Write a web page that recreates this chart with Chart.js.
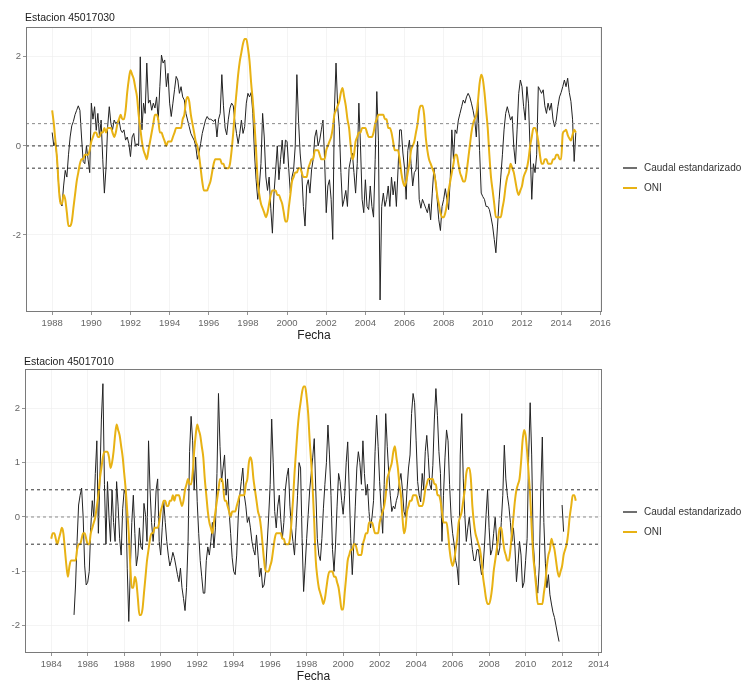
<!DOCTYPE html>
<html>
<head>
<meta charset="utf-8">
<script src="https://cdn.jsdelivr.net/npm/chart.js@4/dist/chart.umd.min.js"></script>
<style>
  html, body { margin: 0; padding: 0; background: #ffffff; }
  #wrap { position: relative; width: 746px; height: 687px; }
  .panel { position: absolute; left: 0; width: 746px; }
</style>
</head>
<body>
<div id="wrap">
  <div class="panel" style="top:0;height:343px"><canvas id="c1" width="746" height="343"></canvas></div>
  <div class="panel" style="top:343px;height:344px"><canvas id="c2" width="746" height="344"></canvas></div>
</div>
<script>
// ---------------- DATA ----------------
const seriesNames = ['Caudal estandarizado', 'ONI'];
const stationTop = 'Estacion 45017030';
const stationBottom = 'Estacion 45017010';
const axisTitle = 'Fecha';

// ONI, monthly, Jan 1984 .. Oct 2014
const oniStartYear = 1984;
const oniStartMonth = 1;
const oniValues = [
  -0.4,-0.3,-0.3,-0.4,-0.5,-0.4,-0.3,-0.2,-0.3,-0.6,-0.9,-1.1,
  -0.9,-0.8,-0.8,-0.8,-0.8,-0.6,-0.5,-0.5,-0.4,-0.3,-0.3,-0.4,
  -0.5,-0.5,-0.3,-0.2,-0.1,0.0,0.2,0.4,0.7,0.9,1.1,1.2,
  1.2,1.2,1.1,0.9,1.0,1.2,1.5,1.7,1.6,1.5,1.3,1.1,
  0.8,0.5,0.1,-0.3,-0.9,-1.3,-1.3,-1.1,-1.2,-1.5,-1.8,-1.8,
  -1.7,-1.4,-1.1,-0.8,-0.6,-0.4,-0.3,-0.3,-0.2,-0.2,-0.2,-0.1,
  0.1,0.2,0.3,0.3,0.2,0.2,0.3,0.3,0.4,0.3,0.4,0.4,
  0.4,0.3,0.2,0.3,0.5,0.6,0.7,0.6,0.6,0.8,1.2,1.5,
  1.7,1.6,1.5,1.3,1.1,0.7,0.4,0.1,-0.1,-0.2,-0.3,-0.1,
  0.1,0.3,0.5,0.7,0.7,0.6,0.3,0.3,0.2,0.1,0.0,0.1,
  0.1,0.1,0.2,0.3,0.4,0.4,0.4,0.4,0.6,0.7,1.0,1.1,
  1.0,0.7,0.5,0.3,0.1,0.0,-0.2,-0.5,-0.8,-1.0,-1.0,-1.0,
  -0.9,-0.8,-0.6,-0.4,-0.3,-0.3,-0.3,-0.3,-0.4,-0.4,-0.5,-0.5,
  -0.5,-0.4,-0.1,0.3,0.8,1.2,1.6,1.9,2.1,2.3,2.4,2.4,
  2.2,1.9,1.4,1.0,0.5,-0.1,-0.8,-1.1,-1.3,-1.4,-1.5,-1.6,
  -1.5,-1.3,-1.1,-1.0,-1.0,-1.0,-1.1,-1.1,-1.2,-1.3,-1.5,-1.7,
  -1.7,-1.4,-1.1,-0.8,-0.7,-0.6,-0.6,-0.5,-0.5,-0.6,-0.7,-0.7,
  -0.7,-0.5,-0.4,-0.3,-0.3,-0.1,-0.1,-0.1,-0.2,-0.3,-0.3,-0.3,
  -0.1,0.0,0.1,0.2,0.4,0.7,0.8,0.9,1.0,1.2,1.3,1.1,
  0.9,0.6,0.4,0.0,-0.3,-0.2,0.1,0.2,0.3,0.3,0.4,0.4,
  0.4,0.3,0.2,0.2,0.2,0.3,0.5,0.6,0.7,0.7,0.7,0.7,
  0.6,0.6,0.4,0.4,0.3,0.1,-0.1,-0.1,-0.1,-0.3,-0.6,-0.8,
  -0.9,-0.8,-0.6,-0.4,-0.1,0.0,0.1,0.3,0.5,0.8,0.9,0.9,
  0.7,0.2,-0.1,-0.3,-0.4,-0.5,-0.6,-0.8,-1.1,-1.3,-1.5,-1.6,
  -1.6,-1.5,-1.3,-1.0,-0.8,-0.6,-0.4,-0.2,-0.2,-0.4,-0.6,-0.7,
  -0.8,-0.8,-0.6,-0.3,0.0,0.3,0.5,0.6,0.7,1.0,1.4,1.6,
  1.5,1.2,0.8,0.4,-0.2,-0.7,-1.0,-1.3,-1.6,-1.6,-1.6,-1.6,
  -1.4,-1.2,-0.9,-0.7,-0.6,-0.4,-0.5,-0.6,-0.8,-1.0,-1.1,-1.0,
  -0.9,-0.7,-0.6,-0.5,-0.3,0.0,0.2,0.4,0.4,0.3,0.1,-0.2,
  -0.4,-0.4,-0.3,-0.3,-0.4,-0.4,-0.4,-0.3,-0.3,-0.2,-0.2,-0.3,
  -0.3,0.28,0.33,0.36,0.25,0.17,0.12,0.25,0.36,0.3
];

// Station 45017030: standardized flow, monthly, Jan 1988 .. Oct 2014
const flowTopStartYear = 1988;
const flowTopStartMonth = 1;
const flowTop = [
  0.3,0.0,0.1,-0.3,-0.9,-1.25,-1.35,-0.9,-0.55,-0.7,-0.2,0.2,
  0.45,0.55,0.7,0.8,0.9,0.8,0.2,-0.35,-0.4,0.0,-0.3,-0.6,
  0.96,0.6,0.88,0.35,0.73,0.2,0.58,-0.3,-1.06,-0.5,0.43,0.88,
  0.5,0.36,0.58,0.5,0.55,0.58,0.36,0.3,0.36,0.13,0.2,0.05,
  -0.24,0.2,0.28,0.0,0.05,0.0,2.0,0.36,0.96,0.73,1.86,0.96,
  1.03,0.8,0.96,0.85,1.1,0.58,1.33,2.04,1.86,1.93,1.33,1.63,
  0.96,0.66,0.96,1.26,1.56,1.48,1.18,1.33,1.1,1.03,0.73,0.58,
  0.43,0.28,0.2,0.13,0.0,-0.3,-0.15,0.05,0.28,0.43,0.58,0.66,
  0.6,0.6,0.58,0.55,0.6,0.2,0.6,0.73,1.6,0.9,0.4,0.25,
  0.6,0.85,0.96,0.9,0.55,0.28,0.05,0.28,0.58,0.28,0.43,0.96,
  1.18,1.1,1.2,0.73,-0.16,-0.76,-1.2,-0.9,-0.4,0.73,0.2,-0.7,
  -1.0,-0.7,-1.4,-1.96,-1.06,-0.54,0.0,-0.76,-0.3,0.13,-0.4,0.13,
  0.1,-0.5,-1.06,-0.7,-0.54,0.0,1.6,0.58,-0.16,-0.6,-1.36,-1.8,
  -0.9,-0.76,-1.06,-0.54,-0.3,0.2,0.36,0.0,0.13,0.36,0.58,-0.3,
  -1.5,-0.9,-0.76,-1.2,-2.1,0.8,1.86,0.88,0.43,-0.6,-1.36,-1.2,
  -1.0,-1.36,-0.5,-0.3,-0.16,-0.6,-1.06,-0.4,0.96,0.0,-1.2,-1.5,
  -0.76,-1.36,-1.43,-0.9,-1.36,-1.6,-0.3,1.22,0.13,-3.46,-1.36,-1.06,
  -1.36,-1.2,-0.9,-1.36,-0.7,-1.1,-0.8,-1.36,-0.54,0.36,0.36,-0.16,
  -0.5,-1.2,-0.1,0.13,-0.4,-0.9,-0.6,-0.54,0.1,-1.2,-1.4,-1.2,
  -1.3,-1.4,-1.5,-1.3,-1.66,-1.06,-0.5,-0.76,-1.2,-1.66,-1.9,-1.36,
  -1.2,-0.96,-1.2,-1.43,-0.76,0.36,-0.3,0.36,0.28,0.58,0.73,0.88,
  1.03,0.96,1.1,1.18,1.1,0.96,0.8,0.6,0.2,1.0,-0.1,-1.06,
  -1.14,-1.2,-1.36,-1.36,-1.43,-1.6,-1.8,-2.1,-2.4,-1.8,-1.2,-0.7,
  -0.2,0.36,0.73,0.88,0.73,0.58,0.66,-0.04,-0.4,0.36,1.18,1.48,
  1.33,0.88,0.58,1.33,0.96,-0.1,-1.2,-0.4,-0.6,-0.2,1.33,1.26,
  1.18,1.26,0.9,0.73,0.96,0.8,0.96,0.6,0.43,0.58,0.88,1.1,
  1.2,1.33,1.48,1.33,1.52,1.2,1.0,0.6,-0.35,0.3
];

// Station 45017010: standardized flow, monthly, Apr 1985 .. Feb 2012 (null = gap)
const flowBottomStartYear = 1985;
const flowBottomStartMonth = 4;
const flowBottom = [
  -1.8,-1.25,-0.45,0.22,0.4,0.53,0.0,-0.9,-1.25,
  -1.2,-1.0,-0.2,0.3,0.0,0.8,1.4,-0.3,0.7,1.8,2.45,0.6,
  -0.5,0.65,0.0,-0.45,0.5,-0.1,-0.45,0.65,0.2,-0.4,-0.7,0.15,
  0.5,0.4,-0.94,-1.92,-1.0,-0.1,0.4,-0.3,-0.9,-0.7,-0.2,-0.55,
  -0.6,0.25,0.04,-0.45,1.4,0.5,-0.1,-0.45,-0.1,0.5,0.7,-0.45,
  -0.7,-0.2,0.28,-0.1,-0.45,-0.7,-0.9,-0.8,-0.65,-0.75,-0.9,-1.06,
  -1.19,-0.94,-1.3,-1.5,-1.72,-1.3,-0.45,1.2,1.85,1.4,0.5,1.1,
  0.28,-0.3,-0.8,-1.1,-1.4,-1.4,-0.8,-0.55,-0.7,-0.45,-0.1,-0.57,
  -0.2,0.8,2.27,1.3,0.65,0.9,1.14,0.4,0.7,0.1,-0.3,-0.75,
  -1.0,-1.06,-0.7,0.0,0.4,0.65,0.9,0.4,0.2,-0.1,0.0,-0.2,
  -0.45,-0.6,-0.7,-0.33,-0.7,-1.1,-0.94,-1.3,-1.25,-1.0,-0.5,0.0,
  0.6,1.8,1.0,0.1,-0.2,0.2,0.4,-0.05,-0.4,-0.1,0.5,0.75,
  0.9,0.2,-0.2,-0.45,-0.7,-0.2,0.4,1.0,0.9,-0.4,-1.37,-0.9,
  -0.4,0.04,0.5,0.8,1.1,1.44,0.5,-0.4,-0.7,-0.8,-0.4,0.15,
  0.6,1.0,1.69,1.14,0.4,-0.6,-1.0,-0.5,0.2,0.8,0.65,0.3,
  0.05,0.4,1.0,1.38,0.5,-0.4,-1.06,-0.5,0.2,0.9,1.2,1.0,
  0.6,1.4,0.8,0.4,0.6,0.1,-0.2,0.0,0.3,1.2,1.87,1.3,
  0.65,0.15,-0.3,0.6,1.9,1.3,0.8,0.4,0.1,0.2,0.15,0.3,
  0.4,0.65,0.8,0.5,0.1,0.0,0.5,0.9,1.14,1.9,2.27,2.1,
  1.4,0.65,0.4,0.28,0.8,0.5,1.2,1.5,1.1,0.6,0.5,0.95,
  1.8,2.36,1.87,1.2,0.8,-0.45,0.4,1.1,1.6,1.4,0.6,0.0,
  -0.3,-0.5,-0.8,-0.94,-1.25,1.14,1.9,0.7,0.04,-0.45,-0.2,0.0,
  -0.35,-0.6,-0.8,-0.8,-0.6,-0.6,-0.85,-1.06,-0.94,-0.5,0.04,0.5,
  -0.2,-0.7,-0.6,-0.3,0.0,-0.45,-0.7,-0.57,-0.1,0.4,1.32,0.7,
  0.4,0.2,-0.1,-0.45,-0.2,-0.57,-1.19,-0.85,-0.45,-0.7,-1.3,-1.2,
  -0.8,-0.4,1.1,2.1,1.14,-0.45,-0.9,-1.2,-1.4,-0.9,0.5,1.47,
  -0.1,-0.85,-1.3,-1.06,-1.43,-1.6,-1.75,-1.85,-2.0,-2.15,-2.29,null,
  0.22,-0.27
];

// ONI window shown in each panel (first and last month, as decimal years)
const oniTopFrom = 1988.0, oniTopTo = 2014.75;
const oniBottomFrom = 1984.0, oniBottomTo = 2012.75;

// Reference lines
const thresholds = [0.5, 0, -0.5];

// Axis ticks and limits
const topXTicks = [1988,1990,1992,1994,1996,1998,2000,2002,2004,2006,2008,2010,2012,2014,2016];
const bottomXTicks = [1984,1986,1988,1990,1992,1994,1996,1998,2000,2002,2004,2006,2008,2010,2012,2014];
const topYTicks = [-2, 0, 2];
const bottomYTicks = [-2, -1, 0, 1, 2];
const topXRange = [1986.6625, 2016.0875];
const bottomXRange = [1982.5625, 2014.1875];
const topYRange = [-3.73, 2.67];
const bottomYRange = [-2.50, 2.72];

// ---------------- HELPERS ----------------
const FONT = '"Liberation Sans", Arial, Helvetica, sans-serif';
const COL_FLOW = '#222222';
const COL_ONI = '#E8B214';

function monthlyPoints(startYear, startMonth, values) {
  return values.map((v, i) => ({ x: startYear + (startMonth - 1 + i) / 12, y: v }));
}
function oniWindow(from, to) {
  return monthlyPoints(oniStartYear, oniStartMonth, oniValues)
    .filter(p => p.x >= from - 1e-6 && p.x <= to + 1e-6);
}

const decoPlugin = {
  id: 'deco',
  afterDatasetsDraw(chart, args, opts) {
    const ca = chart.chartArea, ctx = chart.ctx;
    ctx.save();
    ctx.strokeStyle = '#7a7a7a';
    ctx.lineWidth = 1;
    ctx.strokeRect(Math.round(ca.left) + 0.5, Math.round(ca.top) + 0.5,
                   Math.round(ca.right - ca.left) - 1, Math.round(ca.bottom - ca.top) - 1);
    ctx.restore();
  },
  afterDraw(chart, args, opts) {
    const ctx = chart.ctx, ca = chart.chartArea;
    ctx.save();
    ctx.fillStyle = '#1a1a1a';
    ctx.font = '10.5px ' + FONT;
    ctx.textBaseline = 'middle';
    ctx.textAlign = 'left';
    ctx.fillText(opts.title, ca.left - 1, opts.titleY);
    ctx.font = '10px ' + FONT;
    ctx.fillStyle = '#333';
    const lx0 = 623, lx1 = 637, tx = 644;
    ctx.strokeStyle = COL_FLOW; ctx.lineWidth = 1.3;
    ctx.beginPath(); ctx.moveTo(lx0, opts.legendY[0]); ctx.lineTo(lx1, opts.legendY[0]); ctx.stroke();
    ctx.fillText(seriesNames[0], tx, opts.legendY[0]);
    ctx.strokeStyle = COL_ONI; ctx.lineWidth = 2;
    ctx.beginPath(); ctx.moveTo(lx0, opts.legendY[1]); ctx.lineTo(lx1, opts.legendY[1]); ctx.stroke();
    ctx.fillText(seriesNames[1], tx, opts.legendY[1]);
    ctx.restore();
  }
};

function makeChart(canvasId, cfg) {
  const hlineColors = cfg.hlineColors;
  const hlines = thresholds.map((t, i) => ({
    label: 'ref' + i,
    data: [{ x: cfg.xRange[0], y: t }, { x: cfg.xRange[1], y: t }],
    borderColor: hlineColors[i],
    borderWidth: 1,
    borderDash: [3, 3],
    pointRadius: 0,
    fill: false,
    order: 0
  }));
  return new Chart(document.getElementById(canvasId), {
    type: 'line',
    data: {
      datasets: [
        {
          label: seriesNames[0],
          data: cfg.flow,
          borderColor: COL_FLOW,
          borderWidth: 1.0,
          pointRadius: 0,
          tension: 0,
          spanGaps: false,
          fill: false,
          order: 2
        },
        {
          label: seriesNames[1],
          data: cfg.oni,
          borderColor: COL_ONI,
          borderWidth: 2,
          pointRadius: 0,
          cubicInterpolationMode: 'monotone',
          fill: false,
          order: 1
        },
        ...hlines
      ]
    },
    options: {
      responsive: false,
      animation: false,
      events: [],
      layout: { padding: { left: 0, top: cfg.padTop, right: 144, bottom: 0 } },
      plugins: {
        legend: { display: false },
        tooltip: { enabled: false },
        title: { display: false },
        deco: { title: cfg.title, titleY: cfg.titleY, legendY: cfg.legendY }
      },
      scales: {
        x: {
          type: 'linear',
          min: cfg.xRange[0],
          max: cfg.xRange[1],
          afterBuildTicks: s => { s.ticks = cfg.xTicks.map(v => ({ value: v })); },
          afterFit: s => { s.height = cfg.xAxisH; },
          ticks: {
            autoSkip: false, maxRotation: 0, minRotation: 0,
            font: { size: 9.5, family: FONT }, color: '#666', padding: 3,
            callback: v => String(v)
          },
          grid: { color: '#efefef', lineWidth: 0.7, tickColor: '#666', tickLength: 3 },
          border: { display: false },
          title: {
            display: true, text: axisTitle, color: '#222',
            font: { size: 12, family: FONT }, padding: { top: 0, bottom: cfg.titlePadBottom }
          }
        },
        y: {
          type: 'linear',
          min: cfg.yRange[0],
          max: cfg.yRange[1],
          afterBuildTicks: s => { s.ticks = cfg.yTicks.map(v => ({ value: v })); },
          afterFit: s => { s.width = cfg.yAxisW; },
          ticks: {
            font: { size: 9.5, family: FONT }, color: '#666', padding: 2,
            callback: v => String(v)
          },
          grid: { color: '#efefef', lineWidth: 0.7, tickColor: '#666', tickLength: 3 },
          border: { display: false }
        }
      }
    },
    plugins: [decoPlugin]
  });
}

makeChart('c1', {
  flow: monthlyPoints(flowTopStartYear, flowTopStartMonth, flowTop),
  oni: oniWindow(oniTopFrom, oniTopTo),
  xRange: topXRange, yRange: topYRange,
  xTicks: topXTicks, yTicks: topYTicks,
  padTop: 27, xAxisH: 31, yAxisW: 26, titlePadBottom: 0,
  title: stationTop, titleY: 18, legendY: [168, 188],
  hlineColors: ['#8a8a8a', '#333333', '#333333']
});

makeChart('c2', {
  flow: monthlyPoints(flowBottomStartYear, flowBottomStartMonth, flowBottom),
  oni: oniWindow(oniBottomFrom, oniBottomTo),
  xRange: bottomXRange, yRange: bottomYRange,
  xTicks: bottomXTicks, yTicks: bottomYTicks,
  padTop: 26, xAxisH: 34, yAxisW: 25, titlePadBottom: 3,
  title: stationBottom, titleY: 19, legendY: [169, 189],
  hlineColors: ['#333333', '#8a8a8a', '#333333']
});
</script>
</body>
</html>
